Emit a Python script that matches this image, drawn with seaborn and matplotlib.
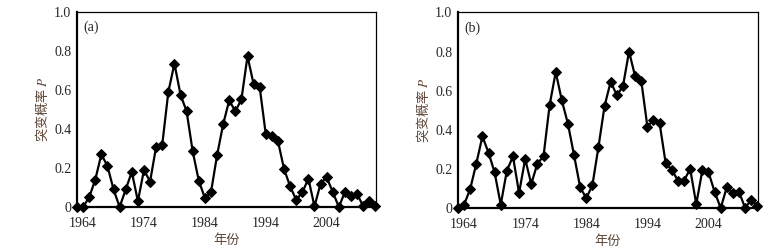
import pandas as pd
import numpy as np
import matplotlib
matplotlib.use('Agg')
import matplotlib.pyplot as plt
import seaborn as sns

# ================================
# data
# ================================
years = list(range(1963, 2013))

p_a = [0.00, 0.00, 0.05, 0.14, 0.27, 0.21, 0.09, 0.00, 0.09, 0.18,
       0.03, 0.19, 0.13, 0.31, 0.32, 0.59, 0.735, 0.576, 0.49, 0.285,
       0.135, 0.046, 0.075, 0.265, 0.424, 0.547, 0.49, 0.552, 0.773, 0.63,
       0.615, 0.373, 0.366, 0.338, 0.195, 0.106, 0.036, 0.075, 0.145, 0.003,
       0.12, 0.152, 0.077, 0.00, 0.077, 0.055, 0.068, 0.003, 0.03, 0.007]

p_b = [0.00, 0.017, 0.097, 0.227, 0.366, 0.283, 0.182, 0.017, 0.19, 0.264,
       0.077, 0.25, 0.123, 0.227, 0.264, 0.526, 0.695, 0.55, 0.43, 0.27,
       0.106, 0.05, 0.116, 0.313, 0.523, 0.646, 0.576, 0.622, 0.80, 0.673,
       0.651, 0.416, 0.451, 0.434, 0.228, 0.196, 0.14, 0.14, 0.20, 0.02,
       0.193, 0.184, 0.083, 0.00, 0.106, 0.075, 0.083, 0.00, 0.043, 0.01]

panel_labels = ['(a)', '(b)']
xtick_years = [1964, 1974, 1984, 1994, 2004]
ytick_vals = [0, 0.2, 0.4, 0.6, 0.8, 1.0]
ytick_labels = ['0', '0.2', '0.4', '0.6', '0.8', '1.0']

# ================================
# style
# ================================
sns.set_style('white')
plt.rcParams['font.family'] = ['Liberation Serif', 'Noto Sans CJK SC']
plt.rcParams['mathtext.fontset'] = 'stix'

label_color = '#5c4436'

fig = plt.figure(figsize=(7.77, 2.52), dpi=100)
ax_a = fig.add_axes([0.0991, 0.1786, 0.3848, 0.774])
ax_b = fig.add_axes([0.5894, 0.1746, 0.3861, 0.776])

for ax, vals, lab in zip([ax_a, ax_b], [p_a, p_b], panel_labels):
    df = pd.DataFrame({'year': years, 'p': vals})
    sns.lineplot(data=df, x='year', y='p', ax=ax, color='black',
                 linewidth=1.6, marker='D', markersize=5.5,
                 markeredgecolor='black', clip_on=False)
    ax.set_xlim(1963, 2012.1)
    ax.set_ylim(0, 1.0)
    ax.set_xticks(xtick_years)
    ax.set_xticklabels([str(y) for y in xtick_years], fontsize=10)
    ax.set_yticks(ytick_vals)
    ax.set_yticklabels(ytick_labels, fontsize=10)
    ax.tick_params(axis='x', length=0, pad=7)
    ax.tick_params(axis='y', length=0, pad=4)
    ax.set_xlabel('年份', fontsize=9.5, color=label_color, labelpad=3,
                  family=['Noto Sans CJK SC', 'DejaVu Sans'])
    ax.set_ylabel('突变概率 $P$', fontsize=9.5, color=label_color, labelpad=3,
                  family=['Noto Sans CJK SC', 'DejaVu Sans'])
    for side in ['top', 'right']:
        ax.spines[side].set_linewidth(0.9)
        ax.spines[side].set_color('black')
    for side in ['left', 'bottom']:
        ax.spines[side].set_linewidth(1.6)
        ax.spines[side].set_color('black')
    ax.text(0.047, 0.92, lab, transform=ax.transAxes, fontsize=10,
            ha='center', va='center')

fig.savefig('out.png', dpi=100)
